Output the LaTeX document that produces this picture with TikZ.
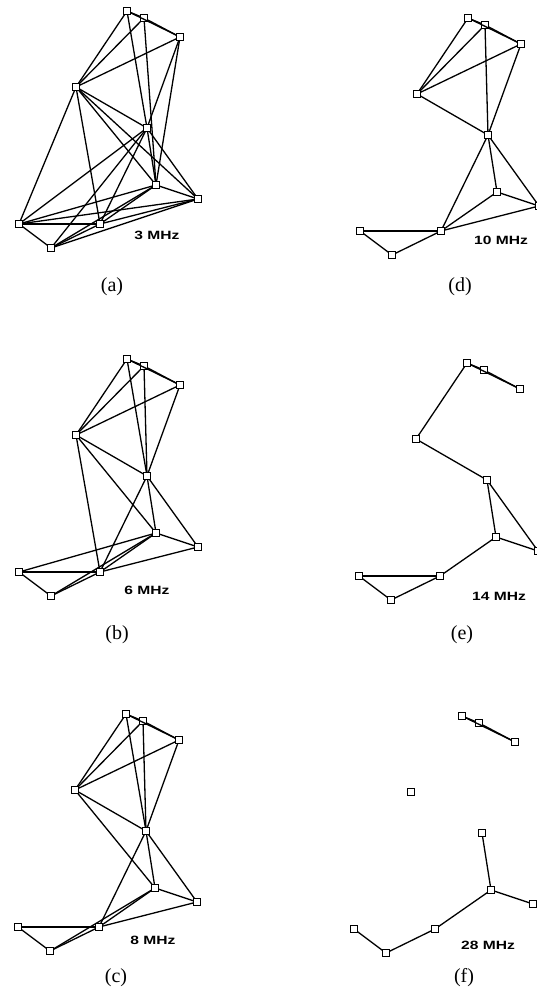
\documentclass[tikz,border=0pt]{standalone}
\usepackage{fontspec}
\setmainfont{Liberation Serif}
\setsansfont{Liberation Sans}
\usetikzlibrary{positioning}

% the ten stations, same layout in every panel
\newcommand{\stations}[1]{%
  \foreach \i/\px/\py in {1/127/11, 2/144/18, 3/180/37, 4/76/87, 5/147/128,
                          6/156/185, 7/198/199, 8/19/224, 9/100/224, 10/51/248}
    \node [station] (#1\i) at (\px,\py) {};
}

\begin{document}
\begin{tikzpicture}[
  x=1pt, y=-1pt,
  station/.style={rectangle, draw=black, fill=white, line width=0.8pt, inner sep=0pt, minimum size=6.5pt},
  link/.style={draw=black, line width=1.3pt},
  freq/.style={font=\sffamily\bfseries\fontsize{12}{14}\selectfont, inner sep=0pt},
  panel/.style={font=\fontsize{20}{23}\selectfont, inner sep=0pt}
]
  \useasboundingbox (0,0) rectangle (537,992);

  % (a) 3 MHz
  \begin{scope}[shift={(0,0)}]
    \stations{a}
    \foreach \s/\t in {1/2, 1/3, 2/3, 1/4, 2/4, 3/4, 1/5, 2/6, 3/5, 3/6, 4/5, 4/6, 4/7, 4/8, 4/9,
                       5/6, 5/7, 5/8, 5/9, 5/10, 6/7, 6/8, 6/9, 6/10, 7/8, 7/9, 7/10, 8/9, 8/10, 9/10}
      \draw [link] (a\s) -- (a\t);
    \node [freq] (fa) at (157,235) {\scalebox{1.3}[1]{3 MHz}};
    \node [panel] (pa) at (112,287) {(a)};
  \end{scope}

  % (b) 6 MHz
  \begin{scope}[shift={(0,348)}]
    \stations{b}
    \foreach \s/\t in {1/2, 1/3, 2/3, 1/4, 2/4, 3/4, 1/5, 2/5, 3/5, 4/5, 4/6, 4/9, 5/6, 5/7, 5/9,
                       6/7, 6/8, 6/9, 6/10, 7/9, 8/9, 8/10, 9/10}
      \draw [link] (b\s) -- (b\t);
    \node [freq] (fb) at (147,242) {\scalebox{1.3}[1]{6 MHz}};
    \node [panel] (pb) at (117,287) {(b)};
  \end{scope}

  % (c) 8 MHz
  \begin{scope}[shift={(-1,703)}]
    \stations{c}
    \foreach \s/\t in {1/2, 1/3, 2/3, 1/4, 2/4, 3/4, 1/5, 2/5, 3/5, 4/5, 4/6, 5/6, 5/7, 5/9,
                       6/7, 6/9, 6/10, 7/9, 8/9, 8/10, 9/10}
      \draw [link] (c\s) -- (c\t);
    \node [freq] (fc) at (154,237) {\scalebox{1.3}[1]{8 MHz}};
    \node [panel] (pc) at (117,275) {(c)};
  \end{scope}

  % (d) 10 MHz
  \begin{scope}[shift={(341,7)}]
    \stations{d}
    \foreach \s/\t in {1/2, 1/3, 2/3, 1/4, 2/4, 3/4, 2/5, 3/5, 4/5, 5/6, 5/7, 5/9,
                       6/7, 6/9, 7/9, 8/9, 8/10, 9/10}
      \draw [link] (d\s) -- (d\t);
    \node [freq] (fd) at (160,233) {\scalebox{1.3}[1]{10 MHz}};
    \node [panel] (pd) at (119,280) {(d)};
  \end{scope}

  % (e) 14 MHz
  \begin{scope}[shift={(340,352)}]
    \stations{e}
    \foreach \s/\t in {1/2, 1/3, 2/3, 1/4, 4/5, 5/6, 5/7, 6/7, 6/9, 8/9, 8/10, 9/10}
      \draw [link] (e\s) -- (e\t);
    \node [freq] (fe) at (159,244) {\scalebox{1.3}[1]{14 MHz}};
    \node [panel] (pe) at (122,283) {(e)};
  \end{scope}

  % (f) 28 MHz
  \begin{scope}[shift={(335,705)}]
    \stations{f}
    \foreach \s/\t in {1/2, 1/3, 2/3, 5/6, 6/7, 6/9, 9/10, 8/10}
      \draw [link] (f\s) -- (f\t);
    \node [freq] (ff) at (153,240) {\scalebox{1.3}[1]{28 MHz}};
    \node [panel] (pf) at (129,273) {(f)};
  \end{scope}
\end{tikzpicture}
\end{document}
